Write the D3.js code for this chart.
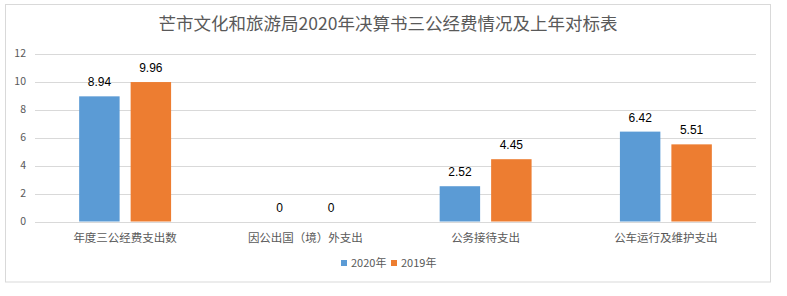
<!DOCTYPE html>
<html>
<head>
<meta charset="utf-8">
<script src="https://cdn.jsdelivr.net/npm/d3@7"></script>
<style>
  body { margin: 0; background: #fff; }
  text { font-family: "Noto Sans CJK SC", "Noto Sans", sans-serif; }
</style>
</head>
<body>
<div id="chart"></div>
<script>
const title = '芒市文化和旅游局2020年决算书三公经费情况及上年对标表';
const categories = ['年度三公经费支出数', '因公出国（境）外支出', '公务接待支出', '公车运行及维护支出'];
const seriesNames = ['2020年', '2019年'];
const values2020 = [8.94, 0, 2.52, 6.42];
const values2019 = [9.96, 0, 4.45, 5.51];
const yTicks = [0, 2, 4, 6, 8, 10, 12];
const colors = ['#5B9BD5', '#ED7D31'];

const data = categories.map((c, i) => ({
    category: c,
    values: [
        {series: seriesNames[0], value: values2020[i]},
        {series: seriesNames[1], value: values2019[i]}
    ]
}));

const width = 787, height = 296;
const plot = {left: 35, right: 756, top: 53.5, bottom: 221.5};

const svg = d3.select('#chart')
    .append('svg')
    .attr('width', width)
    .attr('height', height);

// Chart border
svg.append('rect')
    .attr('x', 5.5).attr('y', 4.5)
    .attr('width', 765).attr('height', 277.5)
    .attr('fill', '#fff')
    .attr('stroke', '#D9D9D9');

// Title
svg.append('text')
    .attr('x', 388).attr('y', 30)
    .attr('text-anchor', 'middle')
    .attr('font-size', 17.5)
    .attr('fill', '#595959')
    .text(title);

// Scales
const x0 = d3.scaleBand()
    .domain(categories)
    .range([plot.left, plot.right])
    .paddingInner(0.49)
    .paddingOuter(0.245);

const x1 = d3.scaleBand()
    .domain(seriesNames)
    .range([0, x0.bandwidth()])
    .paddingInner(0.214);

const y = d3.scaleLinear()
    .domain([0, 12])
    .range([plot.bottom, plot.top]);

const color = d3.scaleOrdinal().domain(seriesNames).range(colors);

// Gridlines
svg.append('g')
    .selectAll('line')
    .data(yTicks)
    .join('line')
    .attr('x1', plot.left).attr('x2', plot.right)
    .attr('y1', d => Math.round(y(d)) + 0.5)
    .attr('y2', d => Math.round(y(d)) + 0.5)
    .attr('stroke', '#D9D9D9');

// Y axis labels
svg.append('g')
    .selectAll('text')
    .data(yTicks)
    .join('text')
    .attr('x', 26)
    .attr('y', d => y(d) + 3.5)
    .attr('text-anchor', 'end')
    .attr('font-size', 10.5)
    .attr('fill', '#595959')
    .text(d => d);

// Bars
const groups = svg.append('g')
    .selectAll('g')
    .data(data)
    .join('g')
    .attr('transform', d => `translate(${x0(d.category)},0)`);

groups.selectAll('rect')
    .data(d => d.values)
    .join('rect')
    .attr('x', d => x1(d.series))
    .attr('y', d => y(d.value))
    .attr('width', x1.bandwidth())
    .attr('height', d => y(0) - y(d.value))
    .attr('fill', d => color(d.series));

// Data labels
groups.selectAll('text')
    .data(d => d.values)
    .join('text')
    .attr('x', d => x1(d.series) + x1.bandwidth() / 2)
    .attr('y', d => y(d.value) - 10)
    .attr('text-anchor', 'middle')
    .attr('font-size', 12)
    .attr('fill', '#000')
    .style('font-family', '"Liberation Sans", sans-serif')
    .text(d => d.value);

// X axis labels
svg.append('g')
    .selectAll('text')
    .data(categories)
    .join('text')
    .attr('x', d => x0(d) + x0.bandwidth() / 2)
    .attr('y', 242)
    .attr('text-anchor', 'middle')
    .attr('font-size', 11.5)
    .attr('fill', '#595959')
    .text(d => d);

// Legend
const legendX = [341, 391];
const legend = svg.append('g')
    .selectAll('g')
    .data(seriesNames)
    .join('g')
    .attr('transform', (d, i) => `translate(${legendX[i]},260)`);

legend.append('rect')
    .attr('width', 6).attr('height', 6)
    .attr('fill', d => color(d));

legend.append('text')
    .attr('x', 10).attr('y', 7)
    .attr('font-size', 11)
    .attr('fill', '#595959')
    .text(d => d);
</script>
</body>
</html>
